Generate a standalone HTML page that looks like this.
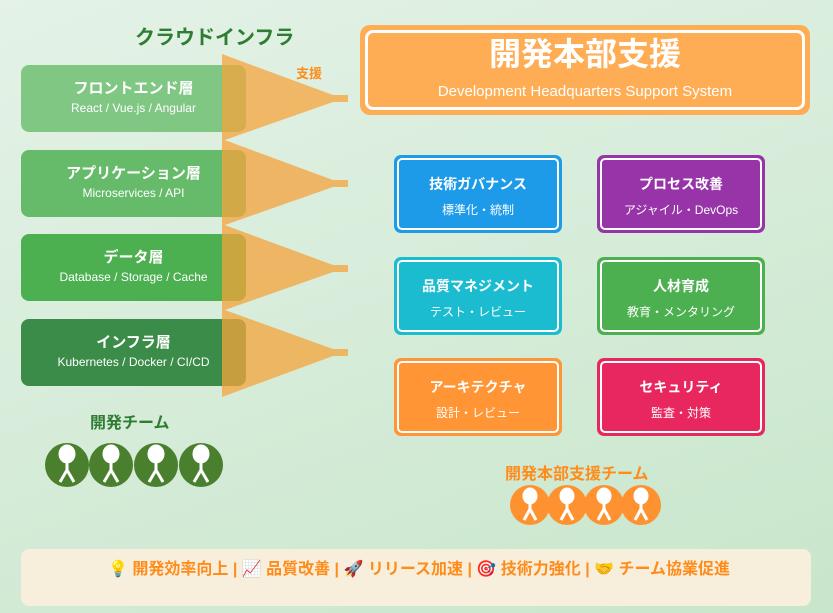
<!DOCTYPE html>
<html><head><meta charset="utf-8"><style>
body{margin:0;width:833px;height:613px;overflow:hidden;font-family:"Liberation Sans","Noto Sans CJK JP",sans-serif;background:linear-gradient(160deg,#e4f2e7,#c8e6cb);position:relative}
.a{position:absolute}
.lb{position:absolute;left:21px;width:225px;height:67px;border-radius:8px;color:#fff;text-align:center}
.lb b{display:block;font-size:15px;margin-top:12px}
.lb span{display:block;font-size:12px;margin-top:3px}
.c{position:absolute;width:168px;height:78px;border-radius:7px;color:#fff;text-align:center;box-sizing:border-box}
.c .in{position:absolute;left:3px;top:3px;right:3px;bottom:3px;border:2px solid #fff;border-radius:5px}
.c b{display:block;font-size:14px;margin-top:19px}
.c span{display:block;font-size:12px;margin-top:7px}
</style></head><body>
<div class="a" style="left:135px;top:21px;font-size:20px;font-weight:bold;color:#2e7d32">クラウドインフラ</div>
<div class="lb" style="top:65px;background:#81c784"><b>フロントエンド層</b><span>React / Vue.js / Angular</span></div>
<div class="lb" style="top:150px;background:#66bb6a"><b>アプリケーション層</b><span>Microservices / API</span></div>
<div class="lb" style="top:234px;background:#4caf50"><b>データ層</b><span>Database / Storage / Cache</span></div>
<div class="lb" style="top:319px;background:#3b8c48"><b>インフラ層</b><span>Kubernetes / Docker / CI/CD</span></div>
<svg class="a" style="left:0;top:0" width="833" height="613">
<g fill="#f5a43c" opacity="0.75">
<polygon points="222,54 333,95 348,95 348,102 333,102 222,141"/>
<polygon points="222,139 333,180 348,180 348,187 333,187 222,226"/>
<polygon points="222,224 333,265 348,265 348,272 333,272 222,311"/>
<polygon points="222,309 333,349 348,349 348,356 333,356 222,397"/>
</g>
<g fill="#4a7f2e">
<ellipse cx="67" cy="465" rx="22" ry="22"/><ellipse cx="111" cy="465" rx="22" ry="22"/><ellipse cx="156" cy="465" rx="22" ry="22"/><ellipse cx="201" cy="465" rx="22" ry="22"/>
</g>
<g fill="#ff9230">
<ellipse cx="530" cy="505" rx="20" ry="20"/><ellipse cx="567" cy="505" rx="20" ry="20"/><ellipse cx="604" cy="505" rx="20" ry="20"/><ellipse cx="641" cy="505" rx="20" ry="20"/>
</g>
<g fill="#fff" stroke="#fff" stroke-width="3">
<g id="p1"><ellipse cx="67" cy="454" rx="7" ry="8"/><line x1="67" y1="462" x2="67" y2="472"/><line x1="67" y1="470" x2="60" y2="482"/><line x1="67" y1="470" x2="74" y2="482"/></g>
<use href="#p1" x="44"/><use href="#p1" x="89"/><use href="#p1" x="134"/>
<g id="p2"><ellipse cx="530" cy="496" rx="6" ry="7"/><line x1="530" y1="503" x2="530" y2="511"/><line x1="530" y1="509" x2="524" y2="520"/><line x1="530" y1="509" x2="536" y2="520"/></g>
<use href="#p2" x="37"/><use href="#p2" x="74"/><use href="#p2" x="111"/>
</g>
</svg>
<div class="a" style="left:296px;top:63px;font-size:13px;font-weight:bold;color:#ff8c1a">支援</div>
<div class="a" style="left:360px;top:25px;width:450px;height:90px;background:#ffad55;border-radius:10px">
<div class="a" style="left:5px;top:5px;right:5px;bottom:5px;border:3px solid #fff;border-radius:8px"></div>
<div class="a" style="left:0;right:0;top:4px;text-align:center;color:#fff;font-size:32px;font-weight:bold">開発本部支援</div>
<div class="a" style="left:0;right:0;top:58px;text-align:center;color:#fff;font-size:15px">Development Headquarters Support System</div>
</div>
<div class="c" style="left:394px;top:155px;background:#1e9be8"><div class="in"></div><b>技術ガバナンス</b><span>標準化・統制</span></div>
<div class="c" style="left:597px;top:155px;background:#9735a8"><div class="in"></div><b>プロセス改善</b><span>アジャイル・DevOps</span></div>
<div class="c" style="left:394px;top:257px;background:#1cbcd0"><div class="in"></div><b>品質マネジメント</b><span>テスト・レビュー</span></div>
<div class="c" style="left:597px;top:257px;background:#4caf50"><div class="in"></div><b>人材育成</b><span>教育・メンタリング</span></div>
<div class="c" style="left:394px;top:358px;background:#ff9535"><div class="in"></div><b>アーキテクチャ</b><span>設計・レビュー</span></div>
<div class="c" style="left:597px;top:358px;background:#e8275f"><div class="in"></div><b>セキュリティ</b><span>監査・対策</span></div>
<div class="a" style="left:90px;top:409px;font-size:16px;font-weight:bold;color:#2e7d32">開発チーム</div>
<div class="a" style="left:505px;top:460px;font-size:16px;font-weight:bold;color:#ff8c1a">開発本部支援チーム</div>
<div class="a" style="left:21px;top:549px;width:790px;height:57px;background:#f7efdc;border-radius:8px"></div>
<div class="a" style="left:108px;top:555px;font-size:16px;font-weight:bold;color:#ff8c1a;white-space:nowrap">💡 開発効率向上 | 📈 品質改善 | 🚀 リリース加速 | 🎯 技術力強化 | 🤝 チーム協業促進</div>
</body></html>
